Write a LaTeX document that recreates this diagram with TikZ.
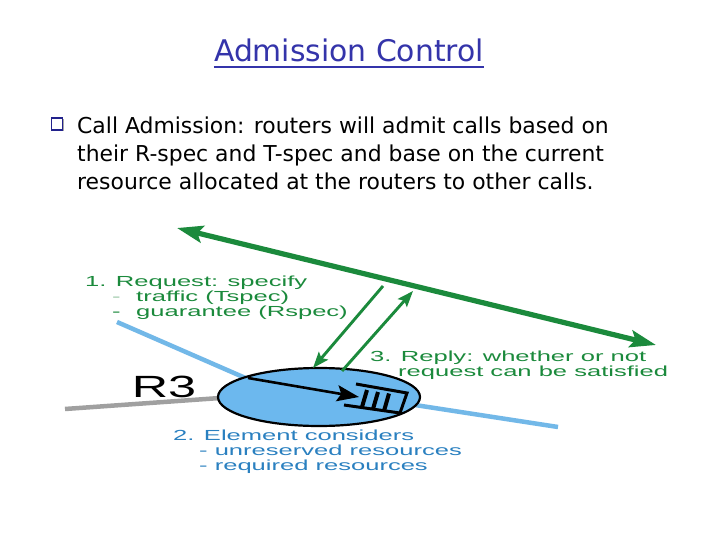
\documentclass[tikz,border=0pt]{standalone}
\usepackage{fontspec}
\setmainfont{DejaVu Sans}
\newfontfamily\dfont[FakeStretch=1.75]{Liberation Sans}
\newfontfamily\rfont[FakeStretch=1.64]{Liberation Sans}
\usetikzlibrary{arrows.meta,shapes.geometric}
\definecolor{tgreen}{HTML}{1B8A3C}
\definecolor{lgreen}{HTML}{9CC8A8}
\definecolor{tblue}{HTML}{2A80C0}
\definecolor{linkblue}{HTML}{72B8E8}
\definecolor{ellfill}{HTML}{6CB8EE}
\definecolor{titleblue}{HTML}{3434AA}
\definecolor{bulblue}{HTML}{22228C}
\definecolor{linkgray}{HTML}{A0A0A0}
\tikzset{
  difftext/.style={anchor=base west, inner sep=0pt, text height=10pt, text depth=3pt, font=\dfont\fontsize{14.6}{14.6}\selectfont},
  bodytext/.style={anchor=base west, inner sep=0pt, font=\fontsize{21.9}{21.9}\selectfont},
  bigarrow/.style={tgreen, line width=5.2pt, {Stealth[length=26pt,width=17pt,inset=5pt]}-{Stealth[length=26pt,width=17pt,inset=5pt]}},
  thinarrow/.style={tgreen, line width=2.9pt, -{Stealth[length=16pt,width=12pt,inset=3pt]}},
  linkline/.style={line width=4.5pt}
}
\begin{document}
\begin{tikzpicture}[x=1pt,y=-1pt]
\useasboundingbox[fill=white] (0,0) rectangle (720,540);
% title
\node[anchor=base, inner sep=0pt, text=titleblue, font=\fontsize{29.8}{29.8}\selectfont] (title) at (349,62) {Admission Control};
\draw[titleblue, line width=2.2pt] ([yshift=-5pt]title.base west) -- ([yshift=-5pt]title.base east);
% bullet
\node[fill=gray!70, minimum width=11pt, minimum height=12pt, inner sep=0pt] (bulsh) at (58.5,125.5) {};
\node[draw=bulblue, fill=white, line width=1.5pt, minimum width=11pt, minimum height=12pt, inner sep=0pt] (bul) at (57,124) {};
\node[bodytext] (l1) at (77,134) {Call Admission: routers will admit calls based on};
\node[bodytext] (l2) at (77,162) {their R-spec and T-spec and base on the current};
\node[bodytext] (l3) at (77,190) {resource allocated at the routers to other calls.};
% links
\coordinate (la) at (117,322);
\coordinate (lb) at (250,380);
\coordinate (ra) at (415,405);
\coordinate (rb) at (558,427);
\coordinate (ga) at (65,409);
\coordinate (gb) at (220,398);
\draw[linkline, linkblue] (la) -- (lb);
\draw[linkline, linkblue] (ra) -- (rb);
\draw[linkline, linkgray] (ga) -- (gb);
% router
\node[draw=black, line width=2.2pt, fill=ellfill, ellipse, minimum width=202pt, minimum height=58pt, inner sep=0pt] (r3) at (319,397) {};
% internal arrow
\coordinate (ia) at (248,378);
\coordinate (ib) at (359,397);
\draw[black, line width=2.6pt, -{Stealth[length=22pt,width=16pt,inset=4pt]}] (ia) -- (ib);
% queue
\coordinate (q1) at (356,384);
\coordinate (q2) at (407,393);
\coordinate (q3) at (400,413);
\coordinate (q4) at (344,405);
\draw[black, line width=3pt, line join=miter] (q1) -- (q2) -- (q3) -- (q4);
\coordinate (b1a) at (367,390); \coordinate (b1b) at (362,407);
\coordinate (b2a) at (378,392); \coordinate (b2b) at (373,409);
\coordinate (b3a) at (389,393.5); \coordinate (b3b) at (384,411);
\draw[black, line width=4pt] (b1a) -- (b1b);
\draw[black, line width=4pt] (b2a) -- (b2b);
\draw[black, line width=4pt] (b3a) -- (b3b);
\node[anchor=base, inner sep=0pt, font=\rfont\fontsize{30.7}{30.7}\selectfont] (r3lab) at (164,397) {R3};
% signalling
\coordinate (ga1) at (177,228);
\coordinate (ga2) at (656,345);
\draw[bigarrow] (ga1) -- (ga2);
\coordinate (aa) at (383,286);
\coordinate (ab) at (313,368);
\coordinate (ba) at (342,371);
\coordinate (bb) at (413,291);
\draw[thinarrow] (aa) -- (ab);
\draw[thinarrow] (ba) -- (bb);
% texts
\node[difftext, text=tgreen] (t1) at (85,286) {1. Request: specify};
\node[difftext, text=lgreen] (t2d) at (112,301) {-};
\node[difftext, text=tgreen] (t2) at (136,301) {traffic (Tspec)};
\node[difftext, text=tgreen] (t3d) at (112,316) {-};
\node[difftext, text=tgreen] (t3) at (136,316) {guarantee (Rspec)};
\node[difftext, text=tgreen] (t4) at (370,361.5) {3. Reply: whether or not};
\node[difftext, text=tgreen] (t5) at (398,376) {request can be satisfied};
\node[difftext, text=tblue] (t6) at (173,440) {2. Element considers};
\node[difftext, text=tblue] (t7) at (199,455) {- unreserved resources};
\node[difftext, text=tblue] (t8) at (199,470) {- required resources};
\end{tikzpicture}
\end{document}
